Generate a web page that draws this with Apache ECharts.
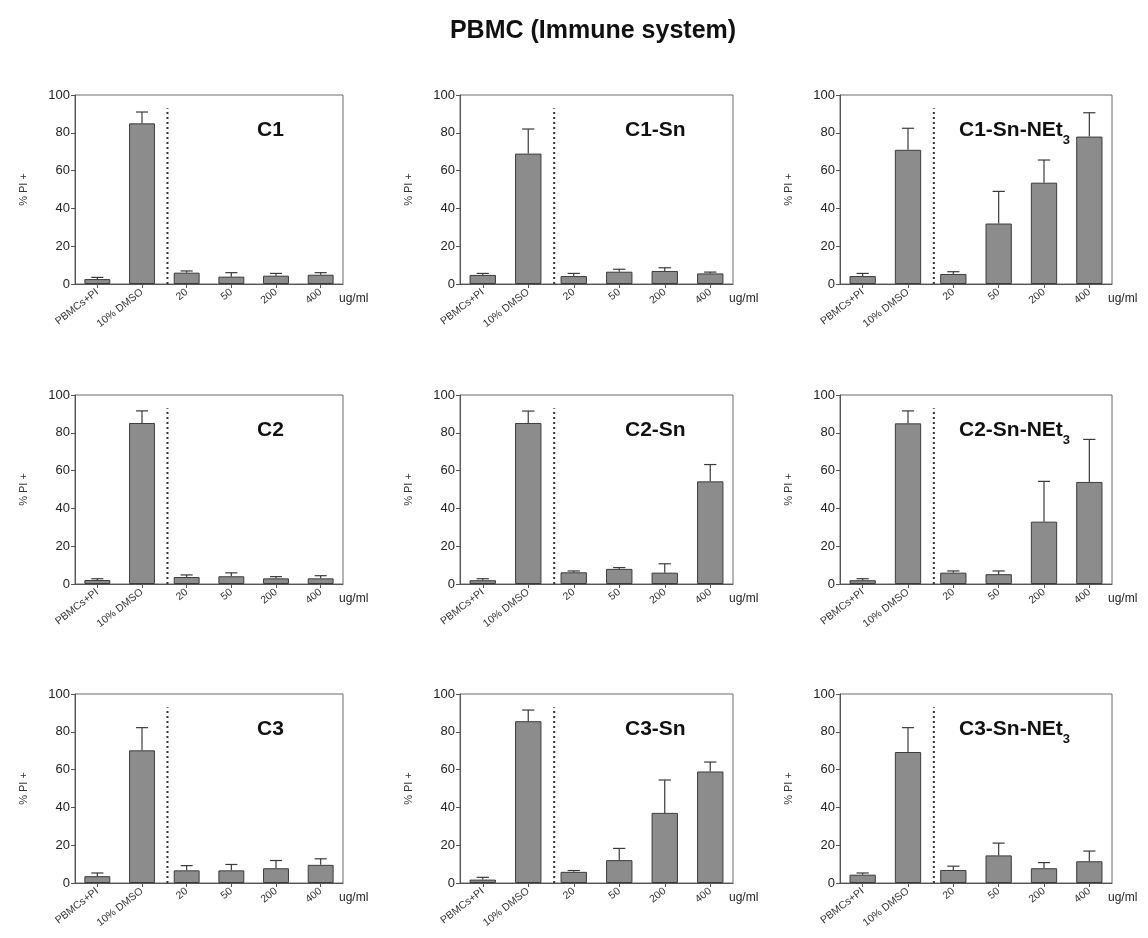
<!DOCTYPE html>
<html>
<head>
<meta charset="utf-8">
<script src="https://cdn.jsdelivr.net/npm/echarts@6/dist/echarts.min.js"></script>
<style>html,body{margin:0;padding:0;background:#fff}#c{width:1148px;height:938px}</style>
</head>
<body>
<div id="c"></div>
<script>
const mainTitle = 'PBMC (Immune system)';
const categories = ['PBMCs+PI', '10% DMSO', '20', '50', '200', '400'];
const yTicks = [0, 20, 40, 60, 80, 100];
const yName = '% PI +';
const xUnit = 'ug/ml';
const panelLabels = ['C1', 'C1-Sn', 'C1-Sn-NEt3', 'C2', 'C2-Sn', 'C2-Sn-NEt3', 'C3', 'C3-Sn', 'C3-Sn-NEt3'];
const dividerAt = 1.57;
const dividerTop = 93;

const meanC1 = [2.6, 85, 6, 3.9, 4.4, 4.9];
const sdC1 = [0.9, 6, 0.9, 2.1, 1.2, 1.1];
const meanC1Sn = [4.8, 69, 4.2, 6.5, 6.9, 5.6];
const sdC1Sn = [0.8, 13, 1.4, 1.3, 1.7, 0.7];
const meanC1SnNEt3 = [4.2, 71, 5.3, 32, 53.6, 78];
const sdC1SnNEt3 = [1.4, 11.4, 1.2, 17, 12, 12.6];
const meanC2 = [2.1, 85.2, 3.7, 4.1, 3.0, 3.0];
const sdC2 = [0.7, 6.4, 1.1, 1.8, 0.9, 1.4];
const meanC2Sn = [2, 85.2, 6.2, 8, 6, 54.3];
const sdC2Sn = [0.8, 6.3, 0.7, 0.7, 4.7, 8.9];
const meanC2SnNEt3 = [2, 85, 6, 5.2, 33, 54];
const sdC2SnNEt3 = [0.8, 6.6, 0.9, 1.7, 21.3, 22.5];
const meanC3 = [3.6, 70.2, 6.7, 6.7, 7.8, 9.6];
const sdC3 = [1.7, 12, 2.5, 3.1, 4.1, 3.2];
const meanC3Sn = [1.8, 85.6, 5.9, 12.1, 37.1, 59];
const sdC3Sn = [1.2, 5.9, 0.7, 6.2, 17.4, 5];
const meanC3SnNEt3 = [4.4, 69.3, 6.9, 14.6, 7.8, 11.5];
const sdC3SnNEt3 = [0.9, 12.9, 2, 6.5, 3, 5.4];

const means = [meanC1, meanC1Sn, meanC1SnNEt3, meanC2, meanC2Sn, meanC2SnNEt3, meanC3, meanC3Sn, meanC3SnNEt3];
const sds = [sdC1, sdC1Sn, sdC1SnNEt3, sdC2, sdC2Sn, sdC2SnNEt3, sdC3, sdC3Sn, sdC3SnNEt3];

// layout
const colLeft = [75, 460, 840];
const colWidth = [268, 273, 272];
const rowTop = [95, 395, 694];
const plotH = 189;
const labelLeft = [252, 620, 954];

const FONT = '"Liberation Sans", Arial, Helvetica, sans-serif';
const barColor = '#8c8c8c';
const edgeColor = '#3c3c3c';
const axisColor = '#555';

const grids = [], xAxes = [], yAxes = [], series = [], titles = [];
titles.push({
  text: mainTitle, left: 588, top: 14, textAlign: 'center',
  textStyle: {fontFamily: FONT, fontSize: 25, fontWeight: 'bold', color: '#111'}
});

for (let p = 0; p < 9; p++) {
  const r = Math.floor(p / 3), c = p % 3;
  grids.push({left: colLeft[c], top: rowTop[r], width: colWidth[c], height: plotH,
    show: true, borderColor: '#6a6a6a', borderWidth: 1, backgroundColor: 'transparent'});
  xAxes.push({
    type: 'category', gridIndex: p, data: categories,
    axisLine: {onZero: false, lineStyle: {color: axisColor, width: 1}},
    axisTick: {show: true, alignWithLabel: true, length: 4, lineStyle: {color: axisColor}},
    axisLabel: {rotate: 38, fontSize: 10.5, color: '#333', fontFamily: FONT, margin: 7, interval: 0},
    name: xUnit, nameLocation: 'end', nameGap: -4,
    nameTextStyle: {fontFamily: FONT, fontSize: 12, color: '#222', verticalAlign: 'top', padding: [9, 0, 0, 0]}
  });
  xAxes.push({type: 'value', gridIndex: p, min: -0.5, max: 5.5, show: false});
  yAxes.push({
    type: 'value', gridIndex: p, min: yTicks[0], max: yTicks[yTicks.length - 1], interval: 20,
    splitLine: {show: false},
    axisLine: {show: true, onZero: false, lineStyle: {color: axisColor, width: 1}},
    axisTick: {show: true, length: 4, lineStyle: {color: axisColor}},
    axisLabel: {fontSize: 13, color: '#222', fontFamily: FONT, margin: 5},
    name: yName, nameLocation: 'middle', nameGap: 46,
    nameTextStyle: {fontFamily: FONT, fontSize: 11, color: '#333'}
  });
  const m = means[p], s = sds[p];
  series.push({
    type: 'bar', xAxisIndex: 2 * p, yAxisIndex: p, data: m, barWidth: '58%',
    itemStyle: {color: barColor, borderColor: edgeColor, borderWidth: 1}, silent: true, z: 2
  });
  series.push({
    type: 'custom', xAxisIndex: 2 * p, yAxisIndex: p, z: 3, silent: true,
    data: m.map((v, i) => [i, v, v + s[i]]),
    encode: {x: 0, y: [1, 2]},
    renderItem: function (params, api) {
      const lo = api.coord([api.value(0), api.value(1)]);
      const hi = api.coord([api.value(0), api.value(2)]);
      const half = api.size([1, 0])[0] * 0.135;
      const st = {stroke: '#3a3a3a', lineWidth: 1.2, fill: null};
      return {type: 'group', children: [
        {type: 'line', shape: {x1: lo[0], y1: lo[1], x2: hi[0], y2: hi[1]}, style: st},
        {type: 'line', shape: {x1: hi[0] - half, y1: hi[1], x2: hi[0] + half, y2: hi[1]}, style: st}
      ]};
    }
  });
  series.push({
    type: 'line', xAxisIndex: 2 * p + 1, yAxisIndex: p, symbol: 'none', silent: true,
    data: [[dividerAt, 0], [dividerAt, dividerTop]],
    lineStyle: {color: '#333', width: 2, type: [2, 3]}, z: 4
  });
  const lbl = panelLabels[p];
  const m3 = lbl.match(/^(.*NEt)3$/);
  const txt = m3 ? '{b|' + m3[1] + '}{s|3}' : '{b|' + lbl + '}';
  titles.push({
    text: txt, left: labelLeft[c], top: rowTop[r] + 20,
    textStyle: {rich: {
      b: {fontFamily: FONT, fontSize: 21, fontWeight: 'bold', color: '#111', verticalAlign: 'bottom'},
      s: {fontFamily: FONT, fontSize: 13, fontWeight: 'bold', color: '#111', padding: [0, 0, -6, 0], verticalAlign: 'bottom'}
    }}
  });
}

const chart = echarts.init(document.getElementById('c'), null, {renderer: 'canvas'});
chart.setOption({
  animation: false,
  backgroundColor: '#fff',
  title: titles,
  grid: grids,
  xAxis: xAxes,
  yAxis: yAxes,
  series: series
});
</script>
</body>
</html>
